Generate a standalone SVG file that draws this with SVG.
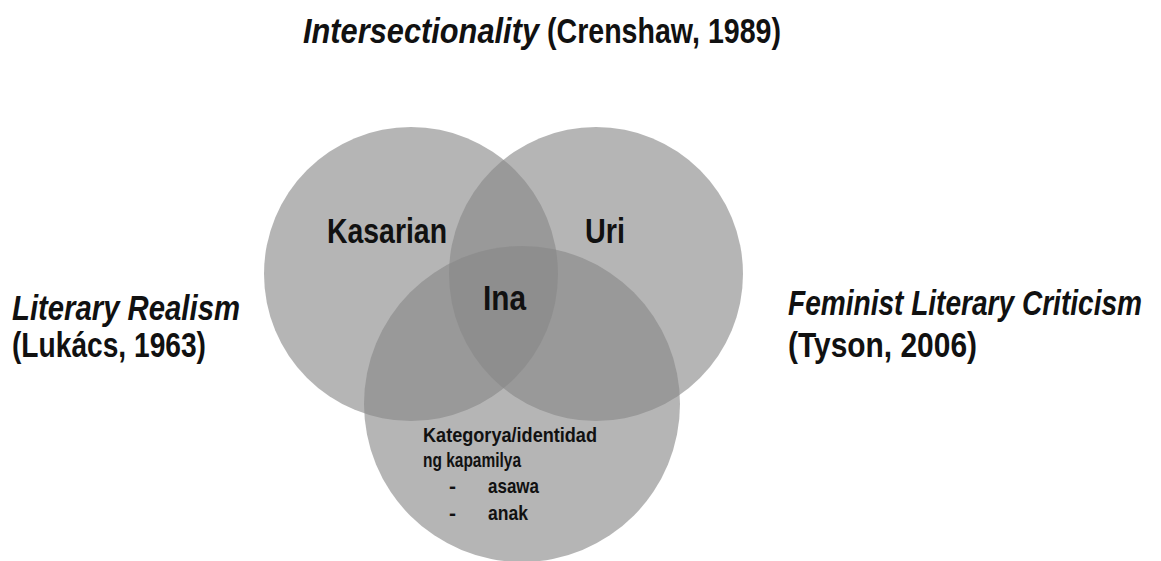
<svg xmlns="http://www.w3.org/2000/svg" width="1161" height="561" viewBox="0 0 1161 561">
<style>
.c{fill:#888888;fill-opacity:0.62}
text{font-family:"Liberation Sans Narrow","Liberation Sans",Arial,sans-serif;font-weight:bold;fill:#111}
.it{font-style:italic}
.big{font-size:35px}
.sm{font-size:21px}
</style>
<rect width="1161" height="561" fill="#ffffff"/>
<g id="circle-kasarian"><circle class="c" cx="411" cy="274" r="147"/></g>
<g id="circle-uri"><circle class="c" cx="596" cy="274" r="147"/></g>
<g id="circle-kapamilya"><circle class="c" cx="522" cy="404" r="158"/></g>
<g id="title">
<text class="big it" x="303" y="43" textLength="236" lengthAdjust="spacingAndGlyphs">Intersectionality</text>
<text class="big" x="547" y="43" textLength="234" lengthAdjust="spacingAndGlyphs">(Crenshaw, 1989)</text>
</g>
<g id="left-label">
<text class="big it" x="12" y="320" textLength="228" lengthAdjust="spacingAndGlyphs">Literary Realism</text>
<text class="big" x="12" y="357" textLength="194" lengthAdjust="spacingAndGlyphs">(Lukács, 1963)</text>
</g>
<g id="right-label">
<text class="it" font-size="28" transform="translate(788,315) scale(1,1.25)" x="0" y="0" textLength="354" lengthAdjust="spacingAndGlyphs">Feminist Literary Criticism</text>
<text class="big" x="788" y="357" textLength="189" lengthAdjust="spacingAndGlyphs">(Tyson, 2006)</text>
</g>
<g id="labels">
<text class="big" x="327" y="243" textLength="120" lengthAdjust="spacingAndGlyphs">Kasarian</text>
<text class="big" x="585" y="243" textLength="40" lengthAdjust="spacingAndGlyphs">Uri</text>
<text class="big" x="483" y="310" textLength="43" lengthAdjust="spacingAndGlyphs">Ina</text>
<text class="sm" x="423" y="442" textLength="174" lengthAdjust="spacingAndGlyphs">Kategorya/identidad</text>
<text class="sm" x="423" y="467" textLength="98" lengthAdjust="spacingAndGlyphs">ng kapamilya</text>
<text class="sm" x="449" y="493">-</text>
<text class="sm" x="488" y="493" textLength="51" lengthAdjust="spacingAndGlyphs">asawa</text>
<text class="sm" x="449" y="520">-</text>
<text class="sm" x="488" y="520" textLength="40" lengthAdjust="spacingAndGlyphs">anak</text>
</g>
<g id="connectors"></g>
</svg>
